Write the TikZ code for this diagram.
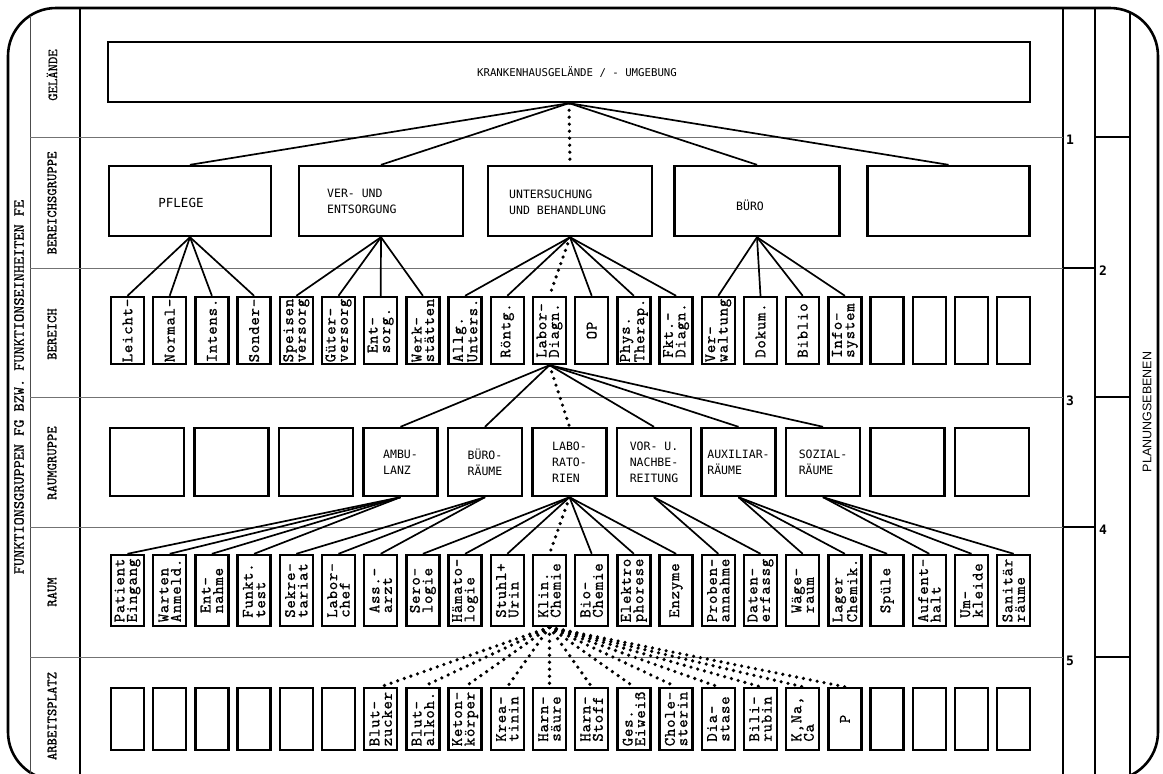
\documentclass[tikz,border=0pt]{standalone}
\usepackage{fontspec}
\newfontfamily\capsmono{DejaVu Sans Mono}
\newfontfamily\labsans{Liberation Sans}
\newfontfamily\tw{lmmono10-regular.otf}[FakeBold=0.9, LetterSpace=5]
\newfontfamily\twl{lmmono10-regular.otf}[FakeBold=0.7]
\begin{document}
\begin{tikzpicture}[x=1pt,y=-1pt,
  frame/.style={line width=2.6pt},
  thickv/.style={line width=2.4pt},
  thinv/.style={line width=0.9pt, black!70},
  rowline/.style={line width=0.8pt, black!55},
  seg/.style={line width=1.6pt},
  box/.style={draw, line width=2.4pt, inner sep=0pt},
  vbox/.style={box, minimum width=33pt},
  bbox/.style={vbox, minimum height=67pt},
  rbox/.style={vbox, minimum height=71pt},
  abox/.style={vbox, minimum height=62pt},
  gbox/.style={box, minimum width=74pt, minimum height=68pt},
  conn/.style={line width=1.7pt},
  dots/.style={line width=3.6pt, line cap=round, dash pattern=on 0pt off 7pt},
  vtxt/.style={rotate=90, align=left, inner sep=0pt, font=\tw\fontsize{16}{12.5}\selectfont},
  captxt/.style={align=left, inner sep=0pt, font=\capsmono\fontsize{11.5}{16}\selectfont},
  levtxt/.style={rotate=90, inner sep=0pt, font=\twl\fontsize{14}{14}\selectfont},
  numtxt/.style={anchor=west, inner sep=0pt, font=\capsmono\bfseries\fontsize{13}{13}\selectfont},
]
\useasboundingbox (0,0) rectangle (1163,774);
% ---------- frame ----------
\begin{scope}
\clip (0,0) rectangle (1163,774);
\draw[frame, rounded corners=48pt] (8,8) rectangle (1158,780);
\draw[thinv] (30,16) -- (30,774);
\draw[thickv] (80,8) -- (80,774);
\draw[thickv] (1063,8) -- (1063,774);
\draw[thickv] (1095,8) -- (1095,774);
\draw[thickv] (1130,12) -- (1130,774);
\end{scope}
% ---------- row lines ----------
\foreach \yy in {137,268,397,527,657} \draw[rowline] (30,\yy) -- (1063,\yy);
\draw[seg] (1063,268) -- (1095,268);
\draw[seg] (1063,527) -- (1095,527);
\draw[seg] (1095,137) -- (1130,137);
\draw[seg] (1095,397) -- (1130,397);
\draw[seg] (1095,657) -- (1130,657);
\node[numtxt] (n1) at (1066,140) {1};
\node[numtxt] (n2) at (1099,271) {2};
\node[numtxt] (n3) at (1066,401) {3};
\node[numtxt] (n4) at (1099,530) {4};
\node[numtxt] (n5) at (1066,661) {5};
\node[rotate=90, inner sep=0pt, font=\labsans\fontsize{12.5}{12.5}\selectfont] (plan) at (1147,412) {PLANUNGSEBENEN};
% ---------- left labels ----------
\node[rotate=90, inner sep=0pt, font=\twl\fontsize{15.5}{15.5}\selectfont] (lfun) at (19,387) {FUNKTIONSGRUPPEN FG BZW. FUNKTIONSEINHEITEN FE};
\node[levtxt] (l1) at (52,75) {GELÄNDE};
\node[levtxt] (l2) at (52,203) {BEREICHSGRUPPE};
\node[levtxt] (l3) at (52,334) {BEREICH};
\node[levtxt] (l4) at (52,463) {RAUMGRUPPE};
\node[levtxt] (l5) at (52,592) {RAUM};
\node[levtxt] (l6) at (52,716) {ARBEITSPLATZ};
% ---------- Gelaende ----------
\node[box, minimum width=922pt, minimum height=60pt] (gel) at (569,72) {};
\node[captxt, font=\capsmono\fontsize{10.7}{12}\selectfont] (tgel) at (577,72) {KRANKENHAUSGELÄNDE / - UMGEBUNG};
% ---------- Bereichsgruppe ----------
\node[box, minimum width=162pt, minimum height=70pt] (bg1) at (190,201) {};
\node[box, minimum width=164pt, minimum height=70pt] (bg2) at (381,201) {};
\node[box, minimum width=164pt, minimum height=70pt] (bg3) at (570,201) {};
\node[box, minimum width=165pt, minimum height=70pt] (bg4) at (757,201) {};
\node[box, minimum width=162pt, minimum height=70pt] (bg5) at (948.5,201) {};
\node[captxt, font=\capsmono\fontsize{12.5}{16}\selectfont] (tpf) at (181,203) {PFLEGE};
\node[captxt, anchor=west] (tver) at (327,201) {VER- UND\\ENTSORGUNG};
\node[captxt, anchor=west] (tunt) at (509,202) {UNTERSUCHUNG\\UND BEHANDLUNG};
\node[captxt] (tbu) at (750,205) {BÜRO};
% ---------- boxes in rows ----------
\foreach \i in {0,...,21} {
  \node[bbox] (b\i) at ({127.5+42.2*\i},330.5) {};
  \node[rbox] (r\i) at ({127.5+42.2*\i},590.5) {};
  \node[abox] (a\i) at ({127.5+42.2*\i},719) {};
}
\foreach \i in {0,...,10} \node[gbox] (g\i) at ({147+84.5*\i},462) {};
% ---------- Raumgruppe texts ----------
\node[captxt] (tg3) at (g3) {AMBU-\\LANZ};
\node[captxt] (tg4) at (g4) {BÜRO-\\RÄUME};
\node[captxt] (tg5) at (g5) {LABO-\\RATO-\\RIEN};
\node[captxt] (tg6) at (g6) {VOR- U.\\NACHBE-\\REITUNG};
\node[captxt] (tg7) at (g7) {AUXILIAR-\\RÄUME};
\node[captxt] (tg8) at (g8) {SOZIAL-\\RÄUME};
% ---------- Bereich texts ----------
\node[vtxt] (tb0) at (b0) {Leicht-};
\node[vtxt] (tb1) at (b1) {Normal-};
\node[vtxt] (tb2) at (b2) {Intens.};
\node[vtxt] (tb3) at (b3) {Sonder-};
\node[vtxt] (tb4) at (b4) {Speisen\\versorg};
\node[vtxt] (tb5) at (b5) {Güter-\\versorg};
\node[vtxt] (tb6) at (b6) {Ent-\\sorg.};
\node[vtxt] (tb7) at (b7) {Werk-\\stätten};
\node[vtxt] (tb8) at (b8) {Allg.\\Unters.};
\node[vtxt] (tb9) at (b9) {Röntg.};
\node[vtxt] (tb10) at (b10) {Labor-\\Diagn.};
\node[vtxt] (tb11) at (b11) {OP};
\node[vtxt] (tb12) at (b12) {Phys.\\Therap.};
\node[vtxt] (tb13) at (b13) {Fkt.-\\Diagn.};
\node[vtxt] (tb14) at (b14) {Ver-\\waltung};
\node[vtxt] (tb15) at (b15) {Dokum.};
\node[vtxt] (tb16) at (b16) {Biblio};
\node[vtxt] (tb17) at (b17) {Info-\\system};
% ---------- Raum texts ----------
\node[vtxt] (tr0) at (r0) {Patient\\Eingang};
\node[vtxt] (tr1) at (r1) {Warten\\Anmeld.};
\node[vtxt] (tr2) at (r2) {Ent-\\nahme};
\node[vtxt] (tr3) at (r3) {Funkt.\\test};
\node[vtxt] (tr4) at (r4) {Sekre-\\tariat};
\node[vtxt] (tr5) at (r5) {Labor-\\chef};
\node[vtxt] (tr6) at (r6) {Ass.-\\arzt};
\node[vtxt] (tr7) at (r7) {Sero-\\logie};
\node[vtxt] (tr8) at (r8) {Hämato-\\logie};
\node[vtxt] (tr9) at (r9) {Stuhl+\\Urin};
\node[vtxt] (tr10) at (r10) {Klin.\\Chemie};
\node[vtxt] (tr11) at (r11) {Bio-\\Chemie};
\node[vtxt] (tr12) at (r12) {Elektro\\phorese};
\node[vtxt] (tr13) at (r13) {Enzyme};
\node[vtxt] (tr14) at (r14) {Proben-\\annahme};
\node[vtxt] (tr15) at (r15) {Daten-\\erfassg};
\node[vtxt] (tr16) at (r16) {Wäge-\\raum};
\node[vtxt] (tr17) at (r17) {Lager\\Chemik.};
\node[vtxt] (tr18) at (r18) {Spüle};
\node[vtxt] (tr19) at (r19) {Aufent-\\halt};
\node[vtxt] (tr20) at (r20) {Um-\\kleide};
\node[vtxt] (tr21) at (r21) {Sanitär\\räume};
% ---------- Arbeitsplatz texts ----------
\node[vtxt] (ta6) at (a6) {Blut-\\zucker};
\node[vtxt] (ta7) at (a7) {Blut-\\alkoh.};
\node[vtxt] (ta8) at (a8) {Keton-\\körper};
\node[vtxt] (ta9) at (a9) {Krea-\\tinin};
\node[vtxt] (ta10) at (a10) {Harn-\\säure};
\node[vtxt] (ta11) at (a11) {Harn-\\Stoff};
\node[vtxt] (ta12) at (a12) {Ges.\\Eiweiß};
\node[vtxt] (ta13) at (a13) {Chole-\\sterin};
\node[vtxt] (ta14) at (a14) {Dia-\\stase};
\node[vtxt] (ta15) at (a15) {Bili-\\rubin};
\node[vtxt] (ta16) at (a16) {K,Na,\\Ca};
\node[vtxt] (ta17) at (a17) {P};
% ---------- connectors ----------
\foreach \j in {1,2,4,5} \draw[conn] (gel.south) -- (bg\j.north);
\draw[dots] (gel.south) -- (bg3.north);
\foreach \j in {0,...,3} \draw[conn] (bg1.south) -- (b\j.north);
\foreach \j in {4,...,7} \draw[conn] (bg2.south) -- (b\j.north);
\foreach \j in {8,9,11,12,13} \draw[conn] (bg3.south) -- (b\j.north);
\draw[dots] (bg3.south) -- (b10.north);
\foreach \j in {14,...,17} \draw[conn] (bg4.south) -- (b\j.north);
\foreach \j in {3,4,6,7,8} \draw[conn] (b10.south) -- (g\j.north);
\draw[dots] (b10.south) -- (g5.north);
\foreach \j in {0,...,3} \draw[conn] (g3.south) -- (r\j.north);
\foreach \j in {4,5,6} \draw[conn] (g4.south) -- (r\j.north);
\foreach \j in {7,8,9,11,12,13} \draw[conn] (g5.south) -- (r\j.north);
\draw[dots] (g5.south) -- (r10.north);
\foreach \j in {14,15} \draw[conn] (g6.south) -- (r\j.north);
\foreach \j in {16,17,18} \draw[conn] (g7.south) -- (r\j.north);
\foreach \j in {19,20,21} \draw[conn] (g8.south) -- (r\j.north);
\foreach \j in {6,...,17} \draw[dots] (r10.south) -- (a\j.north);
\end{tikzpicture}
\end{document}
